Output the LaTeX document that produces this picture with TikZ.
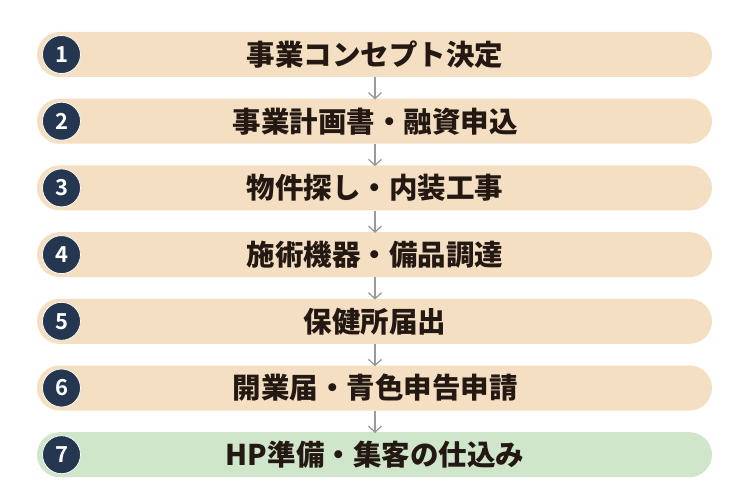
\documentclass[tikz,border=0pt]{standalone}
\usepackage{fontspec}
\setmainfont{Noto Sans CJK JP Black}
\newfontfamily\numfont{Noto Sans CJK JP Bold}
\usetikzlibrary{arrows.meta}
\definecolor{bartan}{HTML}{F4DFC2}
\definecolor{bargreen}{HTML}{CFE6CB}
\definecolor{navy}{HTML}{253650}
\definecolor{ink}{HTML}{231812}
\definecolor{arrowgray}{HTML}{9A9A9A}
\tikzset{
  bar/.style={rounded corners=22.5pt, minimum width=675pt, minimum height=45pt, inner sep=0pt, anchor=center},
  numdot/.style={circle, fill=navy, draw=white!80!bartan, line width=0.8pt, minimum size=38pt, inner sep=0pt, text=white, font=\numfont\fontsize{22}{22}\selectfont},
  label/.style={text=ink, font=\fontsize{28.5}{29}\selectfont, inner sep=0pt},
  flow/.style={draw=arrowgray, line width=1.3pt, -{Straight Barb[length=6pt,width=13pt,line width=1.3pt]}}
}
\begin{document}
\begin{tikzpicture}[x=1pt,y=-1pt]
\useasboundingbox (0,0) rectangle (750,503);
\fill[white] (0,0) rectangle (750,503);
\foreach \i/\t/\c in {1/事業コンセプト決定/bartan,2/事業計画書・融資申込/bartan,3/物件探し・内装工事/bartan,4/施術機器・備品調達/bartan,5/保健所届出/bartan,6/開業届・青色申告申請/bartan,7/HP準備・集客の仕込み/bargreen}{
  \pgfmathsetmacro{\yy}{54.5+(\i-1)*66.7}
  \node[bar, fill=\c] (b\i) at (374.5,\yy) {};
  \node[numdot] (n\i) at (61.5,\yy) {\i};
  \node[label] (t\i) at (375,\yy) {\t};
}
\foreach \a/\b in {1/2,2/3,3/4,4/5,5/6,6/7}{
  \draw[flow] (b\a.south -| t\a.center) -- ([yshift=-1pt]b\b.north -| t\b.center);
}
\end{tikzpicture}
\end{document}
